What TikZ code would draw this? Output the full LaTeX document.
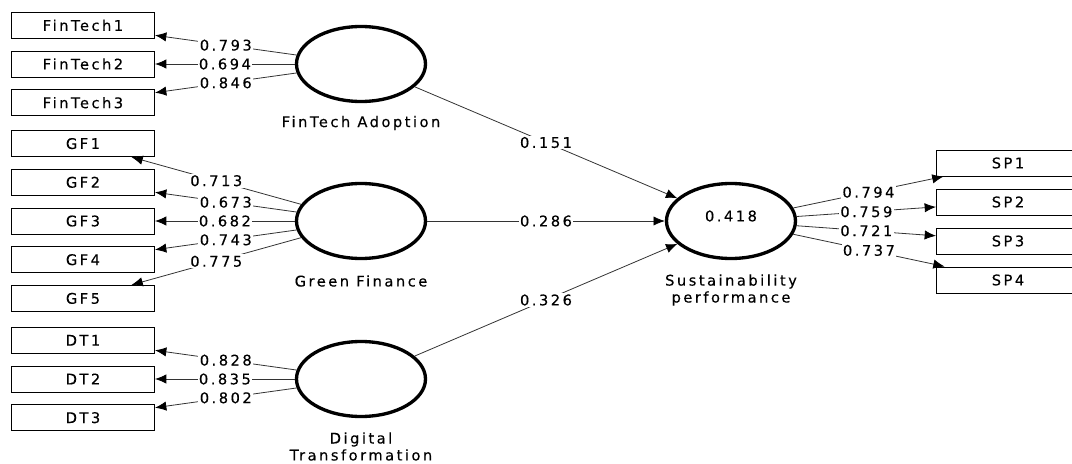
\documentclass[tikz,border=0pt]{standalone}
\usepackage{fontspec}
\setmainfont{DejaVu Sans}[LetterSpace=17,FakeBold=0.3]
\usetikzlibrary{shapes.geometric}
\usetikzlibrary{arrows.meta}

\begin{document}
\begin{tikzpicture}[x=0.75pt,y=-0.75pt,font=\fontsize{11}{12.7}\selectfont,
	ind/.style={rectangle,draw,line width=0.75pt,minimum width=107.25pt,minimum height=19.5pt,inner sep=0pt},
	lv/.style={ellipse,draw,line width=2.5pt,minimum width=96.75pt,minimum height=56.25pt,inner sep=0pt},
	pth/.style={draw=black!80,line width=0.6pt,-{Latex[length=8.5pt,width=7pt,color=black]}},
	wt/.style={fill=white,inner sep=1pt,midway}]
	\useasboundingbox (0,0) rectangle (1072,464);

	% latent variables
	\node[lv](fta) at (361,64) {};
	\node[lv](gf) at (361,221) {};
	\node[lv](dt) at (361,379) {};
	\node[lv](sp) at (731,221) {};
	\node(r2) at (731,216) {0.418};

	\node(ftaT) at (361,123) {FinTech Adoption};
	\node(gfT) at (361,281) {Green Finance};
	\node[align=center](dtT) at (361,446.5) {Digital\\Transformation};
	\node[align=center](spT) at (731,290) {Sustainability\\performance};

	% indicators
	\node[ind](ft1) at (83,25.3) {FinTech1};
	\node[ind](ft2) at (83,64) {FinTech2};
	\node[ind](ft3) at (83,102.7) {FinTech3};
	\node[ind](gf1) at (83,143.6) {GF1};
	\node[ind](gf2) at (83,182.3) {GF2};
	\node[ind](gf3) at (83,221) {GF3};
	\node[ind](gf4) at (83,259.7) {GF4};
	\node[ind](gf5) at (83,298.4) {GF5};
	\node[ind](dt1) at (83,340.3) {DT1};
	\node[ind](dt2) at (83,379) {DT2};
	\node[ind](dt3) at (83,417.7) {DT3};
	\node[ind](sp1) at (1008,163) {SP1};
	\node[ind](sp2) at (1008,202) {SP2};
	\node[ind](sp3) at (1008,241) {SP3};
	\node[ind](sp4) at (1008,280) {SP4};

	% loadings
	\draw[pth] (fta) -- node[wt]{0.793} (ft1);
	\draw[pth] (fta) -- node[wt]{0.694} (ft2);
	\draw[pth] (fta) -- node[wt]{0.846} (ft3);
	\draw[pth] (gf) -- node[wt]{0.713} (gf1);
	\draw[pth] (gf) -- node[wt]{0.673} (gf2);
	\draw[pth] (gf) -- node[wt]{0.682} (gf3);
	\draw[pth] (gf) -- node[wt]{0.743} (gf4);
	\draw[pth] (gf) -- node[wt]{0.775} (gf5);
	\draw[pth] (dt) -- node[wt]{0.828} (dt1);
	\draw[pth] (dt) -- node[wt]{0.835} (dt2);
	\draw[pth] (dt) -- node[wt]{0.802} (dt3);
	\draw[pth] (sp) -- node[wt]{0.794} (sp1);
	\draw[pth] (sp) -- node[wt]{0.759} (sp2);
	\draw[pth] (sp) -- node[wt]{0.721} (sp3);
	\draw[pth] (sp) -- node[wt]{0.737} (sp4);

	% path coefficients
	\draw[pth] (fta) -- node[wt]{0.151} (sp);
	\draw[pth] (gf) -- node[wt]{0.286} (sp);
	\draw[pth] (dt) -- node[wt]{0.326} (sp);
\end{tikzpicture}
\end{document}
